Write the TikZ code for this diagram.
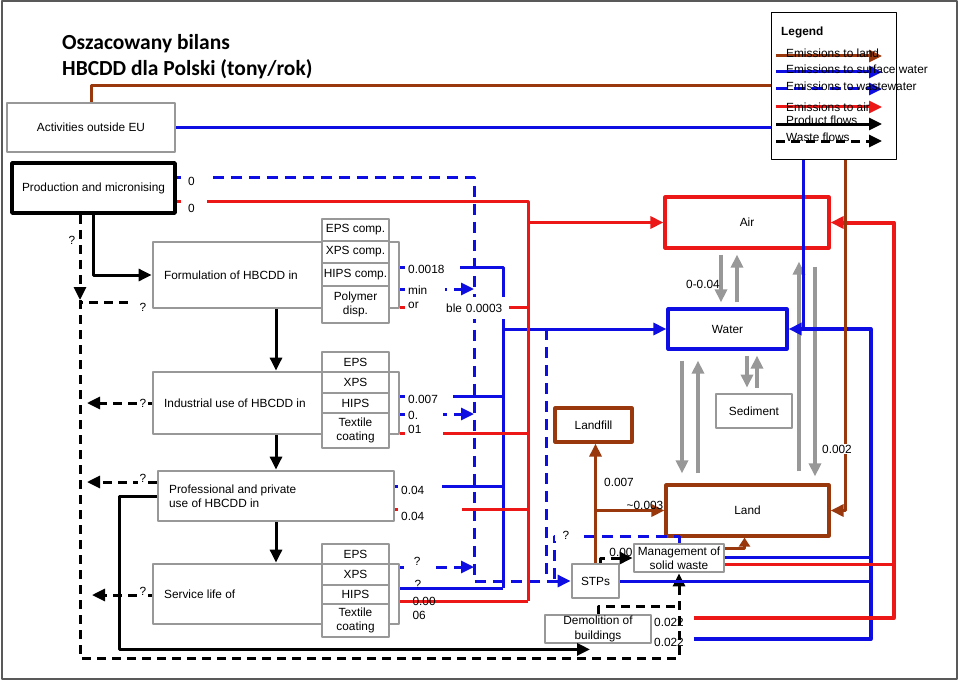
\documentclass[tikz,border=0pt]{standalone}
\usepackage{fontspec}
\setmainfont{Liberation Sans}
\newfontfamily\titlefont{Carlito}
\usetikzlibrary{arrows.meta,positioning}
\newcommand\lfs{\fontsize{11.85}{14.3}\selectfont}
\definecolor{cred}{RGB}{236,24,24}
\definecolor{cblue}{RGB}{14,14,226}
\definecolor{cbrown}{RGB}{153,56,12}
\definecolor{cgrey}{RGB}{152,152,152}
\tikzset{
  box/.style={draw=cgrey, line width=2.8pt, fill=white, inner sep=1pt, align=center},
  sub/.style={box, minimum width=67pt},
  num/.style={fill=white, anchor=west, inner xsep=3pt, inner ysep=0pt, align=left},
  pf/.style={line width=3pt},
  wf/.style={line width=3pt, dash pattern=on 9pt off 6pt},
  bf/.style={draw=cblue, line width=3pt},
  bd/.style={bf, dash pattern=on 11pt off 7pt},
  rf/.style={draw=cred, line width=3pt},
  bn/.style={draw=cbrown, line width=3pt},
  ga/.style={draw=cgrey, line width=3.2pt, ->, shorten >=5pt, shorten <=5pt},
}
\begin{document}
\begin{tikzpicture}[x=1pt, y=-1pt, font=\lfs, line join=round, >={Triangle[length=13pt,width=12pt]}]
	\useasboundingbox (0,0) rectangle (960,682);
	\draw[line width=1.2pt, draw=black!65] (2,1) rectangle (957,679);
	\node[anchor=base west, inner sep=0, font=\titlefont\bfseries\fontsize{21.5}{26}\selectfont] (title1) at (62,50) {Oszacowany bilans};
	\node[anchor=base west, inner sep=0, font=\titlefont\bfseries\fontsize{21.5}{26}\selectfont] (title2) at (62,76) {HBCDD dla Polski (tony/rok)};
	% boxes
	\node[box, minimum width=168pt, minimum height=49pt] (act) at (91,127.5) {Activities outside EU};
	\node[box, draw=black, line width=3.8pt, minimum width=163pt, minimum height=50pt] (prod) at (93.5,188) {Production and micronising};
	\node[box, minimum width=246pt, minimum height=66pt] (form) at (276,275) {};
	\node[anchor=west] (form-t) at ([xshift=9pt]form.west) {Formulation of HBCDD in};
	\foreach \t/\y/\h [count=\i] in {EPS comp./230/22, XPS comp./252/22, HIPS comp./274.5/23, {Polymer\\disp.}/304.5/37}
		\node[sub, minimum height=\h pt] (form-\i) at (355.5,\y) {\t};
	\node[box, minimum width=246pt, minimum height=62pt] (ind) at (276,403) {};
	\node[anchor=west] (ind-t) at ([xshift=9pt]ind.west) {Industrial use of HBCDD in};
	\foreach \t/\y/\h [count=\i] in {EPS/362/20, XPS/382.5/21, HIPS/403/20, {Textile\\coating}/430.5/35}
		\node[sub, minimum height=\h pt] (ind-\i) at (355.5,\y) {\t};
	\node[box, minimum width=236pt, minimum height=50pt] (pro) at (276,496) {};
	\node[anchor=west, align=left] (pro-t) at ([xshift=9pt]pro.west) {Professional and private\\use of HBCDD in};
	\node[box, minimum width=246pt, minimum height=60pt] (svc) at (276,594) {};
	\node[anchor=west] (svc-t) at ([xshift=9pt]svc.west) {Service life of};
	\foreach \t/\y/\h [count=\i] in {EPS/554/20, XPS/574.5/21, HIPS/594.5/19, {Textile\\coating}/620.5/33}
		\node[sub, minimum height=\h pt] (svc-\i) at (355.5,\y) {\t};
	\node[box, draw=cred, line width=3.2pt, minimum width=164pt, minimum height=51pt] (air) at (747,222.5) {Air};
	\node[box, draw=cblue, line width=3.2pt, minimum width=119pt, minimum height=40pt] (water) at (727.5,329) {Water};
	\node[box, minimum width=76pt, minimum height=34pt] (sed) at (754,411) {Sediment};
	\node[box, draw=cbrown, line width=3.2pt, minimum width=163pt, minimum height=51pt] (land) at (747.5,510.5) {Land};
	\node[box, draw=cbrown, line width=3.2pt, minimum width=77pt, minimum height=34pt] (lfill) at (593.5,425) {Landfill};
	\node[box, minimum width=47pt, minimum height=34pt] (stp) at (595.5,581) {STPs};
	\node[box, minimum width=90pt, minimum height=28pt] (msw) at (679,558) {Management of\\solid waste};
	\node[box, minimum width=106pt, minimum height=28pt] (demo) at (598,629) {Demolition of\\buildings};
	\node[draw, line width=1pt, fill=white, minimum width=125pt, minimum height=146pt] (leg) at (833.5,86) {};
	\node[anchor=west, inner sep=0, font=\lfs\bfseries] (leg-t) at (781,32) {Legend};
	\foreach \s/\y/\ty/\t in {bn/56/53/Emissions to land, bf/72/69/Emissions to surface water, bd/89/86/Emissions to wastewater, rf/107/107/Emissions to air, pf/124/120/Product flows, wf/141/137/Waste flows}{
		\draw[\s,->] (776,\y) -- (882,\y);
		\node[anchor=west, inner sep=0] (leg-\y) at (786,\ty) {\t};
	}
	% bus lines
	\coordinate (rb) at (528,601);
	\coordinate (bb) at (503,588);
	\coordinate (db) at (474,581);
	\coordinate (wt) at (80,300);
	\coordinate (wb) at (80,658);
	\coordinate (wr) at ([xshift=82pt]water.east);
	\coordinate (ar) at ([xshift=63pt]air.east);
	% grey exchange
	\draw[ga] ([xshift=-26pt]air.south) -- ([xshift=-26pt]air.south |- water.north);
	\draw[ga] ([xshift=-10pt]air.south |- water.north) -- ([xshift=-10pt]air.south);
	\draw[ga] ([xshift=-7pt]sed.north |- water.south) -- ([xshift=-7pt]sed.north);
	\draw[ga] ([xshift=3pt]sed.north) -- ([xshift=3pt]sed.north |- water.south);
	\draw[ga, shorten >=10pt, shorten <=10pt] ([xshift=-45.5pt]water.south) -- ([xshift=-45.5pt]water.south |- land.north);
	\draw[ga, shorten >=10pt, shorten <=10pt] ([xshift=-29.5pt]water.south |- land.north) -- ([xshift=-29.5pt]water.south);
	\draw[ga, shorten >=12pt, shorten <=12pt] ([xshift=51.5pt]land.north) -- ([xshift=51.5pt]land.north |- air.south);
	\draw[ga, shorten >=7pt, shorten <=17pt] ([xshift=67.5pt]land.north |- air.south) -- ([xshift=67.5pt]land.north);
	% product flows
	\draw[pf,->] (prod) |- (form);
	\draw[pf,->] (form) -- (ind);
	\draw[pf,->] (ind) -- (pro);
	\draw[pf,->] (pro) -- (svc);
	\draw[pf,->] (pro.west) -- ++(-37,0) |- ([xshift=-8pt,yshift=-5pt]demo.south);
	% waste flows
	\draw[wf,->] ([xshift=-13.5pt]prod.south) -- (wt);
	\draw[wf,->] (wt) -- (wb) -| (msw.south);
	\draw[wf] ([xshift=-24pt,yshift=7pt]form.south west) -- ([yshift=7pt]form.south west -| wb);
	\draw[wf,->,shorten >=7pt] (ind.west) -- (ind.west -| wb);
	\draw[wf,->,shorten >=7pt] ([yshift=14pt]pro.west) -- ([yshift=14pt]pro.west -| wb);
	\draw[wf,->,shorten >=12pt] ([yshift=-1pt]svc.west) -- ([yshift=-1pt]svc.west -| wb);
	\draw[wf] (demo.north) |- ([yshift=7pt]demo.north -| msw.south);
	% surface water
	\draw[bf] (act) -- (act -| leg.west);
	\draw[bf] ([xshift=-30.5pt]leg.south) -- ([xshift=-30.5pt]leg.south |- water.east);
	\draw[bf] ([yshift=8pt]form.east) -| (bb);
	\draw[bf,->] (water.west -| bb) -- (water);
	\draw[bf] ([yshift=7pt]ind.east) -- ([yshift=7pt]ind.east -| bb);
	\draw[bf] ([yshift=10pt]pro.east) -- ([yshift=10pt]pro.east -| bb);
	\draw[bf] ([yshift=6pt]svc.east) -- (bb);
	\draw[bf, line width=4pt, ->] ([xshift=42pt,yshift=-10pt]demo.east) -| (wr) -- (water);
	\draw[bf] ([yshift=1pt]msw.east) -- ([yshift=1pt]msw.east -| wr);
	\draw[bf] (stp.east) -- (stp.east -| wr);
	% wastewater
	\draw[bd,->] ([yshift=11pt]prod.east) -| (db) -- (stp);
	\draw[bd,->] ([yshift=-14pt]form.east) -- ([yshift=-14pt]form.east -| db);
	\draw[bd,->] ([yshift=-11pt]ind.east) -- ([yshift=-11pt]ind.east -| db);
	\draw[bd,->] ([yshift=27pt]svc.east) -- ([yshift=27pt]svc.east -| db);
	\draw[bd] ([xshift=-24pt]stp.west |- water.west) -- ([xshift=-24pt]stp.west);
	\draw[bd] (msw.north) -- ++(0,-6) -| ([xshift=-16pt]stp.west);
	% air
	\draw[rf] ([yshift=-13pt]prod.east) -| (rb);
	\draw[rf,->] (air.west -| rb) -- (air);
	\draw[rf] ([yshift=-32pt]form.east) -- ([yshift=-32pt]form.east -| rb);
	\draw[rf] ([yshift=-30pt]ind.east) -- ([yshift=-30pt]ind.east -| rb);
	\draw[rf] ([yshift=-13pt]pro.east) -- ([yshift=-13pt]pro.east -| rb);
	\draw[rf] ([yshift=-7pt]svc.east) -- (rb);
	\draw[rf, line width=4pt, ->] ([xshift=42pt,yshift=11pt]demo.east) -| (ar) -- (air);
	\draw[rf] ([yshift=-6pt]msw.east) -- ([yshift=-6pt]msw.east -| ar);
	% land
	\draw[bn] (act.north) |- (leg.west);
	\draw[bn,->] ([xshift=11.5pt]leg.south) |- (land.east);
	\draw[bn,->] (stp.north) -- (stp.north |- lfill.south);
	\draw[bn,->] (stp.north |- land.west) -- (land.west);
	\draw[bn,-{Triangle[length=9pt,width=11pt]}] ([yshift=10pt]msw.east) -| ([xshift=-3pt]land.south);
	\draw[wf,->] ([xshift=5pt]stp.north) |- (msw.west);
	% numbers
	\node[num, inner xsep=7pt, text width=18pt, minimum height=18pt] (n1) at (181,181) {0};
	\node[num, inner xsep=7pt, text width=12pt, minimum height=18pt] (n2) at (181,208) {0};
	\node[num, text width=49pt, minimum height=16pt] (n3) at (405,269) {0.0018};
	\node[num, text width=34pt, minimum height=16pt] (n4) at (405,290) {min};
	\node[num, text width=32pt, minimum height=14pt] (n5) at (405,305) {or};
	\node[num, text width=60pt, minimum height=22pt] (n6) at (443,308) {ble 0.0003};
	\node[num, text width=42pt, minimum height=16pt] (n7) at (405,399) {0.007};
	\node[num, text width=32pt, minimum height=28pt] (n8) at (405,422.5) {0.\\01};
	\node[num, text width=38pt, minimum height=14pt] (n9) at (398,490) {0.04};
	\node[num, text width=58pt, minimum height=18pt] (n10) at (398,516) {0.04};
	\node[num, text width=20pt, align=center, minimum height=16pt] (n11) at (404,561) {?};
	\node[anchor=west] (n12) at (411,584) {?};
	\node[anchor=west] (n13) at (409,601) {0.00};
	\node[anchor=west] (n14) at (409,615) {06};
	\node (q0) at (72,240) {?};
	\node (q1) at (143,307) {?};
	\node[fill=white, inner sep=1.5pt] (q2) at (143,403) {?};
	\node[fill=white, inner sep=1.5pt] (q3) at (143,478) {?};
	\node[fill=white, inner sep=1.5pt] (q4) at (143,591) {?};
	\node[fill=white, inner sep=1.5pt, minimum width=22pt] (q5) at (566,535) {?};
	\node[fill=white, inner sep=1pt] (n15) at (837,449) {0.002};
	\node (n16) at (703,284) {0-0.04};
	\node (n17) at (619,482) {0.007};
	\node (n18) at (645,505) {\textasciitilde0.003};
	\node (n19) at (621,552) {0.00};
	\node (n20) at (669,622) {0.022};
	\node (n21) at (669,642) {0.022};
\end{tikzpicture}
\end{document}
